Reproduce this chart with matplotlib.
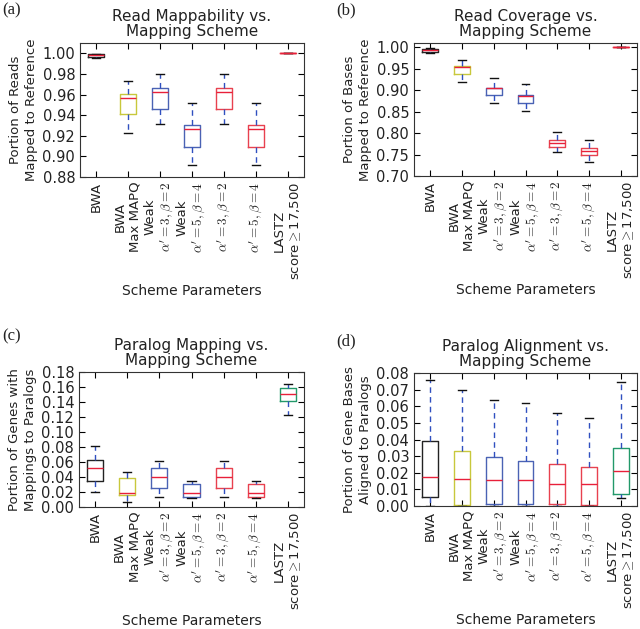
import matplotlib
matplotlib.use('Agg')
import matplotlib.pyplot as plt

plt.rcParams['font.family'] = ['DejaVu Sans']
plt.rcParams['mathtext.fontset'] = 'cm'

# scheme names on the x axis
schemes = ['BWA', 'BWA\nMax MAPQ',
           'Weak\n$\\alpha^{\\prime}=3,\\beta=2$',
           'Weak\n$\\alpha^{\\prime}=5,\\beta=4$',
           '$\\alpha^{\\prime}=3,\\beta=2$',
           '$\\alpha^{\\prime}=5,\\beta=4$',
           'LASTZ\nscore$\\geq$17,500']

# (a) read mappability: whisker low, q1, median, q3, whisker high
mappability_lo = [0.995, 0.923, 0.931, 0.892, 0.931, 0.892, 1.0]
mappability_q1 = [0.996, 0.9407, 0.946, 0.909, 0.946, 0.909, 1.0]
mappability_med = [0.998, 0.957, 0.962, 0.9266, 0.962, 0.9266, 1.0]
mappability_q3 = [0.999, 0.9604, 0.966, 0.930, 0.966, 0.930, 1.0]
mappability_hi = [0.9995, 0.9735, 0.980, 0.9517, 0.980, 0.9517, 1.0]

# (b) read coverage
coverage_lo = [0.986, 0.919, 0.871, 0.852, 0.755, 0.732, 1.0]
coverage_q1 = [0.989, 0.938, 0.888, 0.870, 0.768, 0.748, 1.0]
coverage_med = [0.993, 0.955, 0.904, 0.887, 0.778, 0.759, 1.0]
coverage_q3 = [0.995, 0.957, 0.906, 0.889, 0.785, 0.765, 1.0]
coverage_hi = [0.999, 0.9715, 0.929, 0.914, 0.8025, 0.785, 1.0]

# (c) paralog mapping
pmap_lo = [0.020, 0.007, 0.0136, 0.012, 0.0136, 0.012, 0.123]
pmap_q1 = [0.035, 0.016, 0.025, 0.0132, 0.025, 0.0132, 0.1407]
pmap_med = [0.0516, 0.0185, 0.0397, 0.0185, 0.0397, 0.0185, 0.151]
pmap_q3 = [0.0626, 0.039, 0.0516, 0.0304, 0.0516, 0.0304, 0.1585]
pmap_hi = [0.082, 0.047, 0.0618, 0.0348, 0.0618, 0.0348, 0.164]

# (d) paralog alignment
palign_lo = [0.0, 0.0, 0.0, 0.0, 0.0, 0.0, 0.0047]
palign_q1 = [0.0055, 0.0008, 0.001, 0.001, 0.001, 0.0005, 0.0074]
palign_med = [0.0175, 0.0165, 0.0157, 0.0155, 0.0135, 0.013, 0.0212]
palign_q3 = [0.0392, 0.0333, 0.0293, 0.0273, 0.0255, 0.0235, 0.0348]
palign_hi = [0.0759, 0.070, 0.064, 0.062, 0.056, 0.0531, 0.0745]

BLACK = '#222222'
YELLOW = '#c8c83c'
BLUE = '#4a62b4'
RED = '#e8414f'
GREEN = '#22996a'
TEXT = '#222222'


def draw_panel(ax, lo, q1, med, q3, hi, box_colors, title, ylabel, ylim, yticks):
    stats = []
    for i in range(len(schemes)):
        stats.append({'whislo': lo[i], 'q1': q1[i], 'med': med[i],
                      'q3': q3[i], 'whishi': hi[i], 'fliers': []})
    parts = ax.bxp(stats, positions=range(1, len(schemes) + 1), widths=0.5,
                   showfliers=False,
                   whiskerprops=dict(color='#3050c0', linestyle=(0, (4, 3)), linewidth=1),
                   capprops=dict(color='#111111', linewidth=1),
                   medianprops=dict(color='#e8203a', linewidth=1),
                   boxprops=dict(linewidth=1))
    for box, c in zip(parts['boxes'], box_colors):
        box.set_color(c)

    ax.set_xlim(0.5, len(schemes) + 0.5)
    ax.set_ylim(*ylim)
    ax.set_yticks(yticks)
    ax.set_yticklabels(['%.2f' % t for t in yticks], fontsize=10.5, color=TEXT)
    ax.set_xticks(range(1, len(schemes) + 1))
    ax.set_xticklabels(schemes, rotation=90, fontsize=9.5, color=TEXT,
                       multialignment='center')
    ax.tick_params(direction='in', top=True, right=True, length=4, width=0.8)
    for s in ax.spines.values():
        s.set_color('#333333')
    ax.set_title(title, fontsize=11, color=TEXT, pad=5, linespacing=1.0)
    ax.set_ylabel(ylabel, fontsize=9.5, color=TEXT, linespacing=1.35, labelpad=3)
    ax.set_xlabel('Scheme Parameters', fontsize=10, color=TEXT, labelpad=3)


fig = plt.figure(figsize=(6.4, 6.29), dpi=100)
W, H = 640.0, 629.0

ax_a = fig.add_axes([80 / W, 1 - 177 / H, 224 / W, 134 / H])
ax_b = fig.add_axes([414 / W, 1 - 176 / H, 223 / W, 133 / H])
ax_c = fig.add_axes([79 / W, 1 - 507 / H, 225 / W, 135 / H])
ax_d = fig.add_axes([414 / W, 1 - 506 / H, 223 / W, 133 / H])

draw_panel(ax_a, mappability_lo, mappability_q1, mappability_med, mappability_q3,
           mappability_hi, [BLACK, YELLOW, BLUE, BLUE, RED, RED, RED],
           'Read Mappability vs.\nMapping Scheme',
           'Portion of Reads\nMapped to Reference',
           (0.88, 1.01), [0.88 + 0.02 * i for i in range(7)])
draw_panel(ax_b, coverage_lo, coverage_q1, coverage_med, coverage_q3,
           coverage_hi, [BLACK, YELLOW, BLUE, BLUE, RED, RED, RED],
           'Read Coverage vs.\nMapping Scheme',
           'Portion of Bases\nMapped to Reference',
           (0.70, 1.01), [0.70 + 0.05 * i for i in range(7)])
draw_panel(ax_c, pmap_lo, pmap_q1, pmap_med, pmap_q3, pmap_hi,
           [BLACK, YELLOW, BLUE, BLUE, RED, RED, GREEN],
           'Paralog Mapping vs.\nMapping Scheme',
           'Portion of Genes with\nMappings to Paralogs',
           (0.0, 0.18), [0.02 * i for i in range(10)])
draw_panel(ax_d, palign_lo, palign_q1, palign_med, palign_q3, palign_hi,
           [BLACK, YELLOW, BLUE, BLUE, RED, RED, GREEN],
           'Paralog Alignment vs.\nMapping Scheme',
           'Portion of Gene Bases\nAligned to Paralogs',
           (0.0, 0.08), [0.01 * i for i in range(9)])

serif = ['Liberation Serif', 'DejaVu Serif']
fig.text(2 / W, 1 - 2 / H, '(a)', family=serif, fontsize=12, va='top', color=TEXT)
fig.text(336 / W, 1 - 2 / H, '(b)', family=serif, fontsize=12, va='top', color=TEXT)
fig.text(2 / W, 1 - 328 / H, '(c)', family=serif, fontsize=12, va='top', color=TEXT)
fig.text(336 / W, 1 - 333 / H, '(d)', family=serif, fontsize=12, va='top', color=TEXT)

fig.savefig('out.png', dpi=100, facecolor='white')
